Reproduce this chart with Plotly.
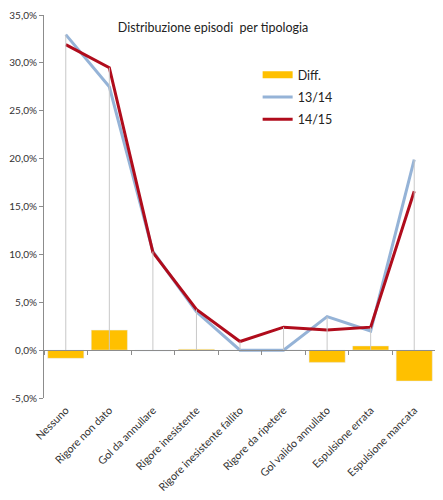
import plotly.graph_objects as go

categories = [
    "Nessuno", "Rigore non dato", "Gol da annullare", "Rigore inesistente",
    "Rigore inesistente fallito", "Rigore da ripetere", "Gol valido annullato",
    "Espulsione errata", "Espulsione mancata",
]
diff = [-0.86, 2.09, -0.1, 0.1, 0.0, 0.0, -1.28, 0.44, -3.23]
s1314 = [32.95, 27.5, 10.3, 4.0, 0.0, 0.0, 3.5, 2.0, 19.9]
s1415 = [31.9, 29.5, 10.2, 4.25, 0.9, 2.4, 2.1, 2.4, 16.6]

y_ticks = [-5, 0, 5, 10, 15, 20, 25, 30, 35]
y_labels = ["-5,0%", "0,0%", "5,0%", "10,0%", "15,0%", "20,0%", "25,0%", "30,0%", "35,0%"]

# drop lines from the highest line point down to zero
drop_x, drop_y = [], []
for c, a, b in zip(categories, s1314, s1415):
    drop_x += [c, c, None]
    drop_y += [0, max(a, b), None]

fig = go.Figure()

fig.add_trace(go.Scatter(
    x=drop_x, y=drop_y, mode="lines", xaxis="x2",
    line=dict(color="#C8C8C8", width=1),
    showlegend=False, hoverinfo="skip",
))

fig.add_trace(go.Bar(
    x=categories, y=diff, name="Diff.", legendgroup="d",
    marker_color="#FFC000", width=0.83, showlegend=False,
))

# legend entry for the bars drawn as a wide rectangle, like Excel
fig.add_trace(go.Scatter(
    x=[None], y=[None], name="Diff.", mode="lines", legendgroup="d",
    line=dict(color="#FFC000", width=7),
))

fig.add_trace(go.Scatter(
    x=categories, y=s1314, name="13/14", mode="lines", legendgroup="a",
    line=dict(color="#95B3D7", width=3),
))

fig.add_trace(go.Scatter(
    x=categories, y=s1415, name="14/15", mode="lines", legendgroup="b",
    line=dict(color="#B00C1C", width=3),
))

fig.update_layout(
    width=435, height=492,
    paper_bgcolor="white", plot_bgcolor="white",
    margin=dict(l=36, r=7, t=7, b=96),
    font=dict(family="Lato, Open Sans, sans-serif", size=10, color="#333333"),
    title=dict(
        text="Distribuzione episodi  per tipologia",
        x=205 / 435, y=1 - 20 / 492, xanchor="center", yanchor="middle",
        font=dict(size=12.5, color="#222222"),
    ),
    showlegend=True,
    legend=dict(
        x=0.545, y=0.882, xanchor="left", yanchor="top",
        font=dict(size=12.5, color="#222222"), traceorder="grouped",
        bgcolor="rgba(0,0,0,0)", itemwidth=30, tracegroupgap=3,
    ),
    bargap=0.17,
)

fig.update_xaxes(
    type="category", categoryorder="array", categoryarray=categories,
    range=[-0.5, 8.5], tickangle=-45, showgrid=False, showline=False,
    ticks="", ticklabelstandoff=3, tickfont=dict(size=10.8, color="#333333"),
)

fig.update_layout(xaxis2=dict(
    type="category", categoryorder="array", categoryarray=categories,
    range=[-0.5, 8.5], overlaying="x", anchor="free", position=5 / 40,
    showline=True, linecolor="#8C8C8C", linewidth=1,
    ticks="outside", tickson="boundaries", ticklen=4, tickcolor="#8C8C8C",
    showticklabels=False, showgrid=False,
))

fig.update_yaxes(
    range=[-5, 35], tickvals=y_ticks, ticktext=y_labels,
    ticklabeloverflow="allow", automargin=False,
    showgrid=False, zeroline=False, showline=True, linecolor="#8C8C8C",
    ticks="outside", ticklen=4, tickcolor="#8C8C8C",
    tickfont=dict(size=10, color="#333333"),
)

fig.write_html("out.html")
